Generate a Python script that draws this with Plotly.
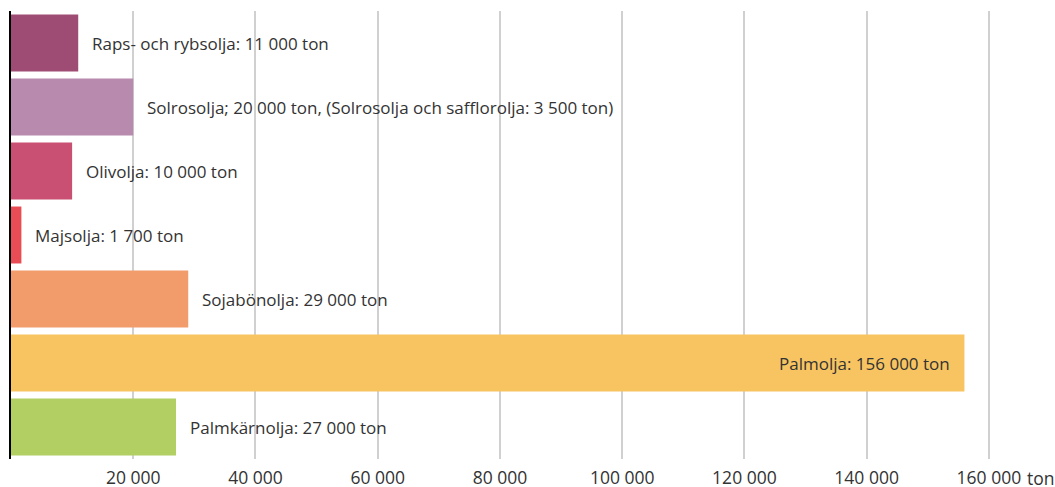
import plotly.graph_objects as go

categories = ["Raps- och rybsolja", "Solrosolja", "Olivolja", "Majsolja",
              "Sojabönolja", "Palmolja", "Palmkärnolja"]
values = [11000, 20000, 10000, 1700, 29000, 156000, 27000]
labels = ["Raps- och rybsolja: 11 000 ton",
          "Solrosolja; 20 000 ton, (Solrosolja och safflorolja: 3 500 ton)",
          "Olivolja: 10 000 ton",
          "Majsolja: 1 700 ton",
          "Sojabönolja: 29 000 ton",
          "Palmolja: 156 000 ton",
          "Palmkärnolja: 27 000 ton"]
colors = ["#9E4C74", "#B78AAE", "#C95072", "#E84D56", "#F29C6C", "#F8C462", "#B2CF64"]
tick_vals = [20000, 40000, 60000, 80000, 100000, 120000, 140000, 160000]
tick_text = ["20 000", "40 000", "60 000", "80 000", "100 000", "120 000", "140 000", "160 000"]
inside = [False, False, False, False, False, True, False]

FONT = "'Open Sans', sans-serif"

fig = go.Figure()
fig.add_trace(go.Bar(
    x=values, y=categories, orientation="h",
    marker=dict(color=colors, line=dict(width=0)),
    hoverinfo="skip",
))

for c, v, lab, ins in zip(categories, values, labels, inside):
    fig.add_annotation(
        x=v, y=c, xref="x", yref="y", text=lab, showarrow=False,
        xanchor="right" if ins else "left",
        xshift=-12 if ins else 12,
        font=dict(family=FONT, size=17, color="#333333"),
    )

fig.add_annotation(
    x=160000, y=0, xref="x", yref="paper", text="ton", showarrow=False,
    xanchor="left", yanchor="top", xshift=37, yshift=-6, borderpad=0,
    font=dict(family=FONT, size=17.5, color="#333333"),
)

fig.update_layout(
    width=1055, height=487,
    margin=dict(l=11, r=5, t=11, b=28, autoexpand=False),
    plot_bgcolor="white", paper_bgcolor="white",
    bargap=0.11,
    showlegend=False,
    xaxis=dict(range=[0, 170000], tickvals=tick_vals, ticktext=tick_text,
               showgrid=True, gridcolor="#D0D0D0", gridwidth=2,
               zeroline=False, showline=False, ticks="", automargin=False,
               ticklabelstandoff=6,
               tickfont=dict(family=FONT, size=17.5, color="#333333")),
    yaxis=dict(categoryorder="array", categoryarray=categories[::-1],
               showticklabels=False, showgrid=False, zeroline=False, automargin=False,
               showline=True, linecolor="#000000", linewidth=2, ticks=""),
)

fig.write_html("out.html",
               config={"displayModeBar": False},
               post_script="document.body.style.margin='0px'; document.body.style.overflow='hidden';")
